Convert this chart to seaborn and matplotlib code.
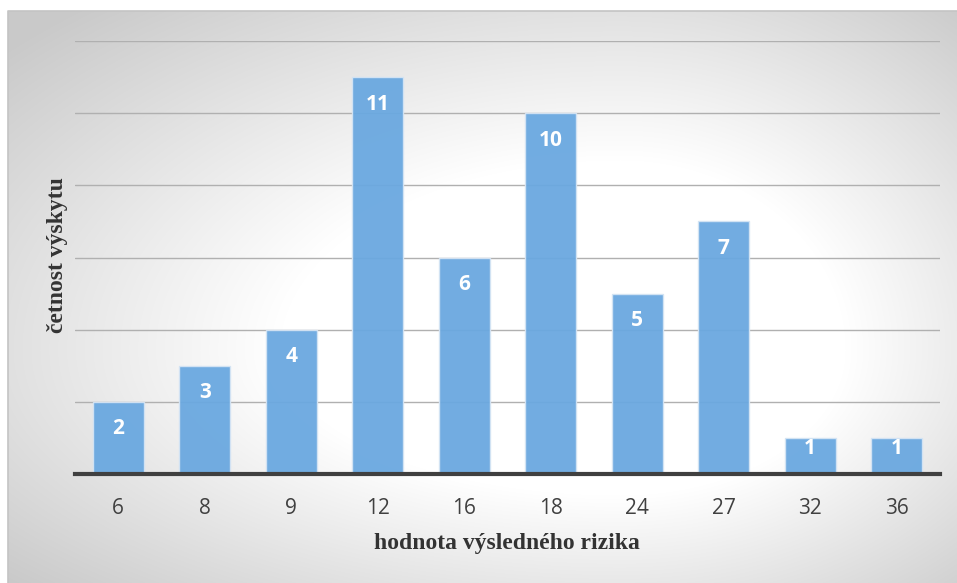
import numpy as np
import pandas as pd
import matplotlib
matplotlib.use("Agg")
import matplotlib.pyplot as plt
import seaborn as sns
from matplotlib.lines import Line2D

categories = ["6", "8", "9", "12", "16", "18", "24", "27", "32", "36"]
counts = [2, 3, 4, 11, 6, 10, 5, 7, 1, 1]
y_ticks = [0, 2, 4, 6, 8, 10, 12]
x_label = "hodnota výsledného rizika"
y_label = "četnost výskytu"

df = pd.DataFrame({"risk": categories, "count": counts})

sns.set_theme(style="white")
plt.rcParams['font.family'] = ['Open Sans', 'DejaVu Sans']

W, H = 957, 583
fig = plt.figure(figsize=(W / 100, H / 100), dpi=100)
fig.patch.set_facecolor("white")

# radial gradient background (chart area)
bx0, by0, bx1, by1 = 8, 11, W, H
bg = fig.add_axes([bx0 / W, 0, (bx1 - bx0) / W, (by1 - by0) / H])
yy, xx = np.mgrid[by0:by1, bx0:bx1].astype(float)
cx, cy = 620.0, 350.0
rx = np.where(xx > cx, 450.0, 680.0)
ry = np.where(yy > cy, 290.0, 380.0)
r = np.sqrt(((xx - cx) / rx) ** 2 + ((yy - cy) / ry) ** 2)
t = np.clip((r - 0.5) / 0.7, 0, 1)
val = 1.0 - 0.21 * t
img = np.dstack([val, val, val])
bg.imshow(img, aspect="auto", interpolation="bilinear")
bg.set_axis_off()
# border on left and top
fig.lines.append(Line2D([bx0 / W, bx0 / W, 1], [0, 1 - by0 / H, 1 - by0 / H],
                        transform=fig.transFigure, color="#c4c4c4", linewidth=1.2))

ax = fig.add_axes([75 / W, 1 - 474 / H, (940 - 75) / W, (474 - 41) / H])
ax.patch.set_alpha(0)

sns.barplot(data=df, x="risk", y="count", order=categories, ax=ax,
            color="#6aa8e0", width=0.59, alpha=0.95,
            edgecolor="#d4e4f4", linewidth=1.0, zorder=3, saturation=1)

ax.set_ylim(0, 12)
ax.set_xlim(-0.5, len(categories) - 0.5)
ax.set_yticks(y_ticks)
ax.set_yticklabels([])
ax.tick_params(axis="y", length=0)
ax.yaxis.grid(True, color="#b0b0b0", linewidth=1.0, zorder=0)
ax.set_axisbelow(True)
for s in ["top", "right", "left"]:
    ax.spines[s].set_visible(False)
ax.spines["bottom"].set_color("#404040")
ax.spines["bottom"].set_linewidth(3)
ax.spines["bottom"].set_zorder(4)
ax.tick_params(axis="x", length=0, pad=17, labelsize=15, labelcolor="#404040")
ax.set_xlabel("")
ax.set_ylabel("")

fig.canvas.draw()
for i, v in enumerate(counts):
    hpx = ax.transData.transform((0, v))[1] - ax.transData.transform((0, 0))[1]
    off_px = min(27.0, hpx - 25.0)
    ax.annotate(str(v), xy=(i, v), xytext=(0, -off_px * 0.72), textcoords="offset points",
                ha="center", va="center", color="white", fontsize=15,
                fontweight="bold", zorder=6)

fig.text(507 / W, 1 - 543 / H, x_label, ha="center", va="center",
         fontsize=17, fontweight="bold", family=["Liberation Serif", "DejaVu Serif"],
         color="#333333")
fig.text(57 / W, 1 - 255 / H, y_label, ha="center", va="center", rotation=90,
         fontsize=17, fontweight="bold", family=["Liberation Serif", "DejaVu Serif"],
         color="#333333")

fig.savefig("out.png", dpi=100)
